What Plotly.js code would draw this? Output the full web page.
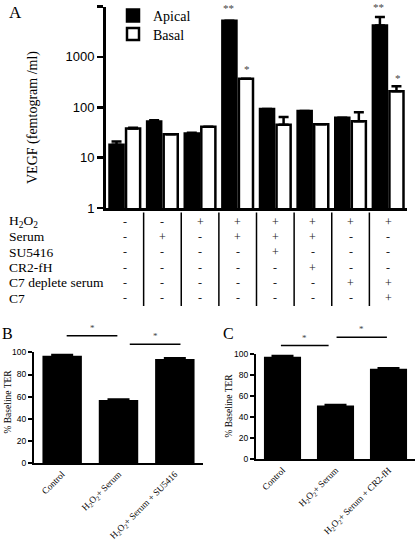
<!DOCTYPE html>
<html>
<head>
<meta charset="utf-8">
<script src="https://cdn.plot.ly/plotly-3.0.1.min.js"></script>
<style>html,body{margin:0;padding:0;background:#fff;}#chart{width:416px;height:540px;}</style>
</head>
<body>
<div id="chart"></div>
<script>
// ---------- Panel A data ----------
const categoriesA = ['Control', 'Serum', 'H2O2', 'H2O2 + Serum', 'H2O2 + Serum + SU5416',
  'H2O2 + Serum + CR2-fH', 'H2O2 + C7 deplete serum', 'H2O2 + C7 deplete serum + C7'];
const apical = [18, 52, 30, 5200, 92, 84, 62, 4200];
const apicalErr = [3, 3, 1, 0, 0, 0, 0, 2000];
const basal = [38, 29, 41, 366, 45, 46, 53, 208];
const basalErr = [1, 0, 0, 0, 19, 0, 27, 54];
const apicalSig = ['', '', '', '**', '', '', '', '**'];
const basalSig = ['', '', '', '*', '', '', '', '*'];

// ---------- Treatment table ----------
const tableRows = ['H<sub>2</sub>O<sub>2</sub>', 'Serum', 'SU5416', 'CR2-fH', 'C7 deplete serum', 'C7'];
const signH2O2 = ['-', '-', '+', '+', '+', '+', '+', '+'];
const signSerum = ['-', '+', '-', '+', '+', '+', '-', '-'];
const signSU5416 = ['-', '-', '-', '-', '+', '-', '-', '-'];
const signCR2fH = ['-', '-', '-', '-', '-', '+', '-', '-'];
const signC7dep = ['-', '-', '-', '-', '-', '-', '+', '+'];
const signC7 = ['-', '-', '-', '-', '-', '-', '-', '+'];
const tableSigns = [signH2O2, signSerum, signSU5416, signCR2fH, signC7dep, signC7];

// ---------- Panel B data ----------
const categoriesB = ['Control', 'H<sub>2</sub>O<sub>2</sub>+ Serum', 'H<sub>2</sub>O<sub>2</sub>+ Serum + SU5416'];
const terB = [97, 57, 94];
const terBErr = [1, 1, 1];

// ---------- Panel C data ----------
const categoriesC = ['Control', 'H<sub>2</sub>O<sub>2</sub>+ Serum', 'H<sub>2</sub>O<sub>2</sub>+ Serum + CR2-fH'];
const terC = [97.5, 51, 86];
const terCErr = [1, 1, 1];

const W = 416, H = 540;
const px = v => v / W;           // px -> paper x
const py = v => (H - v) / H;     // px -> paper y
const SERIF = 'Liberation Serif, Times New Roman, serif';
const SANS = 'Liberation Sans, Arial, sans-serif';

const traces = [
  {type: 'bar', name: 'Apical', x: categoriesA, y: apical, xaxis: 'x', yaxis: 'y', legend: 'legend',
   marker: {color: '#000', line: {color: '#000', width: 2.5}},
   error_y: {type: 'data', symmetric: false, array: apicalErr, arrayminus: apicalErr.map(() => 0),
             color: '#000', thickness: 2.5, width: 5}},
  {type: 'bar', name: 'Basal', x: categoriesA, y: basal, xaxis: 'x', yaxis: 'y', legend: 'legend2',
   marker: {color: '#fff', line: {color: '#000', width: 2.5}},
   error_y: {type: 'data', symmetric: false, array: basalErr, arrayminus: basalErr.map(() => 0),
             color: '#000', thickness: 2.5, width: 5}},
  {type: 'bar', name: 'TER (SU5416)', x: categoriesB, y: terB, xaxis: 'x2', yaxis: 'y2', showlegend: false,
   marker: {color: '#000', line: {width: 0}}, width: 0.7,
   error_y: {type: 'data', symmetric: false, array: terBErr, arrayminus: terBErr.map(() => 0),
             color: '#000', thickness: 1.5, width: 11}},
  {type: 'bar', name: 'TER (CR2-fH)', x: categoriesC, y: terC, xaxis: 'x3', yaxis: 'y3', showlegend: false,
   marker: {color: '#000', line: {width: 0}}, width: 0.7,
   error_y: {type: 'data', symmetric: false, array: terCErr, arrayminus: terCErr.map(() => 0),
             color: '#000', thickness: 1.5, width: 11}}
];

const annotations = [];
const shapes = [];
const txt = (x, y, text, size, opts) => Object.assign({xref: 'paper', yref: 'paper', x: px(x), y: py(y),
  xanchor: 'center', yanchor: 'middle', text: text, showarrow: false,
  font: {family: SERIF, size: size, color: '#000'}}, opts || {});

// panel letters
annotations.push(txt(7, 13, 'A', 17, {xanchor: 'left'}));
annotations.push(txt(0, 333, 'B', 16, {xanchor: 'left'}));
annotations.push(txt(221, 333, 'C', 16, {xanchor: 'left'}));

// axis titles
annotations.push(txt(33, 118, 'VEGF (femtogram /ml)', 14, {textangle: -90}));
annotations.push(txt(7.5, 402, '% Baseline TER', 9.5, {textangle: -90}));
annotations.push(txt(228.5, 406, '% Baseline TER', 9.5, {textangle: -90}));

// significance stars panel A
categoriesA.forEach((c, i) => {
  if (apicalSig[i]) annotations.push({xref: 'x', yref: 'y', x: c, xshift: -9.4,
    y: Math.log10(apical[i] + apicalErr[i]), yanchor: 'bottom', yshift: i === 3 ? 5 : 2,
    text: apicalSig[i], showarrow: false, font: {family: SERIF, size: 11, color: '#444'}});
  if (basalSig[i]) annotations.push({xref: 'x', yref: 'y', x: c, xshift: 9.4,
    y: Math.log10(basal[i] + basalErr[i]), yanchor: 'bottom', yshift: i === 3 ? 2 : 0,
    text: basalSig[i], showarrow: false, font: {family: SERIF, size: 11, color: '#444'}});
});

// treatment table
const rowY0 = 221.5, rowStep = 15.35;
tableRows.forEach((r, ri) => {
  const yy = rowY0 + ri * rowStep;
  annotations.push(txt(7, yy, r, 13.5, {xanchor: 'left'}));
  tableSigns[ri].forEach((s, gi) => {
    annotations.push({xref: 'x', yref: 'paper', x: categoriesA[gi], y: py(yy), xanchor: 'center', yanchor: 'middle',
      text: s, showarrow: false, font: {family: SERIF, size: 12, color: '#222'}});
  });
});
for (let g = 0; g < categoriesA.length - 1; g++) {
  shapes.push({type: 'line', xref: 'x', yref: 'paper', x0: g + 0.5, x1: g + 0.5,
    y0: py(212.5), y1: py(306), line: {color: '#000', width: 1.5}});
}

// significance bars B
const sigLinesB = [{x0: 0.08, x1: 0.98, y: 335.7}, {x0: 1.2, x1: 2.1, y: 344.3}];
sigLinesB.forEach(l => {
  shapes.push({type: 'line', xref: 'x2', yref: 'paper', x0: l.x0, x1: l.x1, y0: py(l.y), y1: py(l.y),
    line: {color: '#000', width: 1.5}});
  annotations.push({xref: 'x2', yref: 'paper', x: (l.x0 + l.x1) / 2, y: py(l.y - 1), yanchor: 'bottom',
    text: '*', showarrow: false, font: {family: SERIF, size: 9, color: '#444'}});
});
// significance bars C
const sigLinesC = [{x0: -0.03, x1: 0.87, y: 345.5}, {x0: 1.02, x1: 1.97, y: 337.3}];
sigLinesC.forEach(l => {
  shapes.push({type: 'line', xref: 'x3', yref: 'paper', x0: l.x0, x1: l.x1, y0: py(l.y), y1: py(l.y),
    line: {color: '#000', width: 1.5}});
  annotations.push({xref: 'x3', yref: 'paper', x: (l.x0 + l.x1) / 2, y: py(l.y - 1), yanchor: 'bottom',
    text: '*', showarrow: false, font: {family: SERIF, size: 9, color: '#444'}});
});

const legendBase = {xanchor: 'left', yanchor: 'top', bgcolor: 'rgba(0,0,0,0)', borderwidth: 0,
  font: {family: SERIF, size: 14, color: '#000'}, itemwidth: 30};
const axA = {showline: true, linecolor: '#000', linewidth: 3, zeroline: false, showgrid: false};
const layout = {
  width: W, height: H, autosize: false,
  margin: {l: 0, r: 0, t: 0, b: 0},
  paper_bgcolor: '#fff', plot_bgcolor: 'rgba(0,0,0,0)',
  barmode: 'group', bargap: 0.12, bargroupgap: 0.15,
  showlegend: true,
  legend: Object.assign({}, legendBase, {x: px(113), y: py(-0.5)}),
  legend2: Object.assign({}, legendBase, {x: px(113), y: py(18.5)}),
  xaxis: Object.assign({}, axA, {domain: [px(106), px(407)], anchor: 'y', type: 'category',
    showticklabels: false, ticks: '', range: [-0.5, 7.5]}),
  yaxis: Object.assign({}, axA, {domain: [py(208), py(6.5)], anchor: 'x', type: 'log', range: [0, 4],
    tickvals: [1, 10, 100, 1000, 10000], ticktext: ['1', '10', '100', '1000', '10000'],
    ticks: 'outside', ticklen: 6, tickwidth: 2.5, tickcolor: '#000',
    tickfont: {family: SANS, size: 13, color: '#000'}}),
  xaxis2: {domain: [px(34), px(203)], anchor: 'y2', type: 'category', showline: true, linecolor: '#000',
    linewidth: 2, ticks: '', tickangle: -45, tickfont: {family: SERIF, size: 9.2, color: '#000'},
    showgrid: false, zeroline: false, range: [-0.5, 2.5]},
  yaxis2: {domain: [py(463.3), py(352.3)], anchor: 'x2', range: [0, 100], dtick: 20, showline: true,
    linecolor: '#000', linewidth: 2, ticks: 'outside', ticklen: 4, tickwidth: 2, tickcolor: '#000',
    showgrid: false, zeroline: false, tickfont: {family: SANS, size: 8.5, color: '#000'}},
  xaxis3: {domain: [px(256), px(415)], anchor: 'y3', type: 'category', showline: true, linecolor: '#000',
    linewidth: 2, ticks: '', tickangle: -45, tickfont: {family: SERIF, size: 9.2, color: '#000'},
    showgrid: false, zeroline: false, range: [-0.5, 2.5]},
  yaxis3: {domain: [py(459.3), py(354)], anchor: 'x3', range: [0, 100], dtick: 20, showline: true,
    linecolor: '#000', linewidth: 2, ticks: 'outside', ticklen: 4, tickwidth: 2, tickcolor: '#000',
    showgrid: false, zeroline: false, tickfont: {family: SANS, size: 8.5, color: '#000'}},
  annotations: annotations,
  shapes: shapes
};

Plotly.newPlot('chart', traces, layout, {staticPlot: true, displayModeBar: false});
</script>
</body>
</html>
